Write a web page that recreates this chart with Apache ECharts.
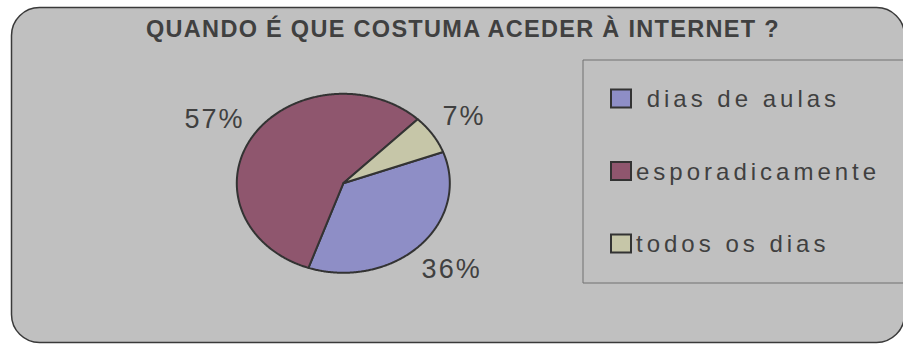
<!DOCTYPE html>
<html>
<head>
<meta charset="utf-8">
<script src="https://cdn.jsdelivr.net/npm/echarts@6/dist/echarts.min.js"></script>
<style>
  html, body { margin: 0; padding: 0; background: #ffffff; }
  #chart { width: 903px; height: 344px; }
  /* spaced lettering: legend entries, title, percentage labels */
  #chart text[style*="24px"] { letter-spacing: 4px; }
  #chart text[style*="bold"] { letter-spacing: 1.3px; }
  #chart text[style*="27px"] { letter-spacing: 2px; }
</style>
</head>
<body>
<div id="chart"></div>
<script>
const titleText = 'QUANDO É QUE COSTUMA ACEDER À INTERNET ?';
const categories = [' dias de aulas', 'esporadicamente', 'todos os dias'];
const values = [36, 57, 7];
const sliceColors = ['#8E8EC6', '#8F566E', '#C6C6A8'];

const total = values.reduce((s, v) => s + v, 0);

// flattened (elliptical) pie layout, slices run clockwise from startDeg
const PIE = { cx: 343.3, cy: 183.3, rx: 106.5, ry: 89.5, startDeg: 20.5, labelK: 1.15, labelDy: 20 };

function renderSlice(params, api) {
  const i = params.seriesIndex;
  const v = api.value(0);
  let before = 0;
  for (let k = 0; k < i; k++) before += values[k];
  const a0 = PIE.startDeg - before / total * 360;
  const a1 = a0 - v / total * 360;
  const steps = Math.max(4, Math.ceil(Math.abs(a1 - a0) * 2));
  const pts = [[PIE.cx, PIE.cy]];
  for (let s = 0; s <= steps; s++) {
    const t = (a0 + (a1 - a0) * s / steps) * Math.PI / 180;
    pts.push([PIE.cx + PIE.rx * Math.cos(t), PIE.cy - PIE.ry * Math.sin(t)]);
  }
  const mid = (a0 + a1) / 2 * Math.PI / 180;
  const c = Math.cos(mid), sn = Math.sin(mid);
  const label = Math.round(v / total * 100) + '%';
  const halfW = 7 + 7.3 * label.length;
  const lx = PIE.cx + PIE.labelK * PIE.rx * c + halfW * c;
  const ly = PIE.cy - (PIE.labelK * PIE.ry * sn + PIE.labelDy * sn);
  return {
    type: 'group',
    children: [
      {
        type: 'polygon',
        shape: { points: pts },
        style: { fill: api.visual('color'), stroke: '#333333', lineWidth: 2, lineJoin: 'round' }
      },
      {
        type: 'text',
        x: lx,
        y: ly,
        style: {
          text: label,
          fill: '#404040',
          fontSize: 27,
          fontFamily: 'Liberation Sans, Arial, sans-serif',
          align: 'center',
          verticalAlign: 'middle'
        }
      }
    ]
  };
}

const chart = echarts.init(document.getElementById('chart'), null, { renderer: 'svg' });

chart.setOption({
  animation: false,
  backgroundColor: '#ffffff',
  graphic: [{
    type: 'rect',
    z: 0,
    silent: true,
    shape: { x: 11.5, y: 7.5, width: 893, height: 335, r: 28 },
    style: { fill: '#C0C0C0', stroke: '#3a3a3a', lineWidth: 1.5 }
  }],
  title: {
    text: titleText,
    left: 146,
    top: 17,
    padding: 0,
    textStyle: {
      fontSize: 23.5,
      fontWeight: 'bold',
      fontFamily: 'Liberation Sans, Arial, sans-serif',
      color: '#404040'
    }
  },
  legend: {
    orient: 'vertical',
    left: 583,
    top: 60,
    padding: [24.5, 200, 25.5, 27],
    itemWidth: 20,
    itemHeight: 18,
    itemGap: 44.5,
    icon: 'rect',
    borderColor: '#707070',
    borderWidth: 1,
    itemStyle: { borderColor: '#333333', borderWidth: 2 },
    textStyle: {
      fontSize: 24,
      lineHeight: 24,
      fontFamily: 'Liberation Sans, Arial, sans-serif',
      color: '#404040',
      padding: [0, 0, 4, 0]
    },
    selectedMode: false,
    data: categories
  },
  series: categories.map((name, i) => ({
    type: 'custom',
    name: name,
    coordinateSystem: 'none',
    silent: true,
    itemStyle: { color: sliceColors[i] },
    data: [[values[i]]],
    renderItem: renderSlice
  }))
});
</script>
</body>
</html>
